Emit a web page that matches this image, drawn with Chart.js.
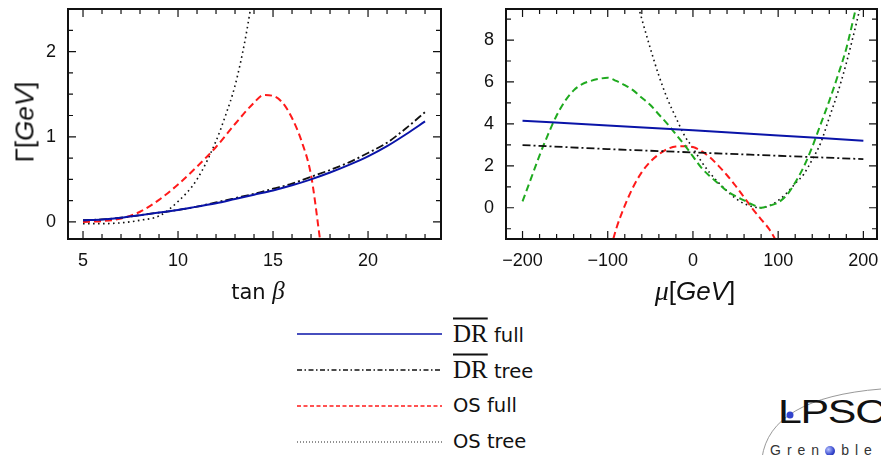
<!DOCTYPE html>
<html>
<head>
<meta charset="utf-8">
<script src="https://cdn.jsdelivr.net/npm/chart.js@4.4.0/dist/chart.umd.min.js"></script>
<style>
  html, body { margin: 0; padding: 0; background: #fff; overflow: hidden; }
  #page { position: relative; width: 881px; height: 455px; overflow: hidden; color: #111; font-family: "Liberation Sans", Arial, sans-serif; }
  .abs { position: absolute; }
  #leftWrap { left: 0; top: 0; width: 450px; height: 310px; }
  #rightWrap { left: 450px; top: 0; width: 431px; height: 310px; }
  .ytitle { left: 25px; top: 122px; font-size: 26px; white-space: nowrap; transform: translate(-50%, -50%) rotate(-90deg); }
  .xtitle { white-space: nowrap; transform: translate(-50%, -50%); }
  .it { font-style: italic; }
  .greek { font-family: "Liberation Serif", serif; font-style: italic; }
  .legrow { left: 453px; white-space: nowrap; font-family: "DejaVu Sans", sans-serif; font-size: 19.5px; transform: translateY(-50%); line-height: 1; }
  .dr { font-family: "Liberation Serif", serif; font-size: 25px; text-decoration: overline; text-decoration-thickness: 2px; }
  #logo { left: 740px; top: 380px; width: 141px; height: 75px; overflow: hidden; }
  .lpsc { position: absolute; left: 38px; top: 15px; font-size: 33px; letter-spacing: -1px; line-height: 1; transform: scaleX(1.3); transform-origin: 0 0; }
  .gren { position: absolute; left: 30px; top: 63px; font-size: 14px; letter-spacing: 6px; line-height: 1; color: #333; }
  .dot { display: inline-block; width: 10px; height: 10px; border-radius: 50%; color: transparent; overflow: hidden; vertical-align: -1px; margin-right: 6px; letter-spacing: 0; background: radial-gradient(circle at 35% 35%, #b8c4ff, #3344cc 60%, #1a2288); }
</style>
</head>
<body>
<div id="page">
  <div id="leftWrap" class="abs"><canvas id="left" width="450" height="310"></canvas></div>
  <div id="rightWrap" class="abs"><canvas id="right" width="431" height="310"></canvas></div>

  <div class="abs ytitle">Γ[<span class="it">GeV</span>]</div>
  <div class="abs xtitle" style="left:258px;top:291px;font-family:'DejaVu Sans',sans-serif;font-size:21px;">tan <span class="greek" style="font-size:25px;">β</span></div>
  <div class="abs xtitle" style="left:695px;top:291px;font-size:26px;"><span class="greek" style="font-size:28px;">μ</span>[<span class="it">GeV</span>]</div>

  <svg class="abs" style="left:297px;top:320px;" width="150" height="130">
    <line x1="0" y1="14" x2="145" y2="14" stroke="#0a14a8" stroke-width="1.6"/>
    <line x1="0" y1="50" x2="145" y2="50" stroke="#111" stroke-width="1.3" stroke-dasharray="5,2.5,1.5,2.5"/>
    <line x1="0" y1="86" x2="145" y2="86" stroke="#ff1a1a" stroke-width="1.6" stroke-dasharray="4,2.5"/>
    <line x1="0" y1="122" x2="145" y2="122" stroke="#222" stroke-width="1" stroke-dasharray="1,2"/>
  </svg>
  <div class="abs legrow" style="top:333px;"><span class="dr">DR</span> full</div>
  <div class="abs legrow" style="top:369px;"><span class="dr">DR</span> tree</div>
  <div class="abs legrow" style="top:406px;">OS full</div>
  <div class="abs legrow" style="top:442px;">OS tree</div>

  <div id="logo" class="abs">
    <svg class="abs" style="left:0;top:0;" width="141" height="75">
      <path d="M 22 78 Q 30 18 141 9" fill="none" stroke="#999" stroke-width="1"/>
      <circle cx="50" cy="35" r="3.5" fill="#3344cc"/>
    </svg>
    <div class="lpsc">LPSC</div>
    <div class="gren">Gren<span class="dot">o</span>ble</div>
  </div>
</div>

<script>
// ---- left panel: width vs tan(beta)
const tanBeta = [5, 6, 7, 8, 9, 10, 11, 12, 13, 14, 15, 16, 17, 18, 19, 20, 21, 22, 23];
const drFullTan = [0.02, 0.03, 0.05, 0.08, 0.11, 0.14, 0.18, 0.22, 0.27, 0.32, 0.37, 0.43, 0.50, 0.58, 0.67, 0.77, 0.89, 1.03, 1.18];
const drTreeTan = [0.02, 0.03, 0.05, 0.08, 0.11, 0.14, 0.18, 0.23, 0.28, 0.33, 0.39, 0.45, 0.53, 0.61, 0.70, 0.81, 0.93, 1.10, 1.29];
const osFullTanX = [5, 6, 7, 8, 9, 10, 11, 12, 13, 14, 14.5, 15, 15.5, 16, 16.5, 17, 17.5];
const osFullTan = [0.0, 0.01, 0.04, 0.12, 0.26, 0.44, 0.65, 0.88, 1.15, 1.40, 1.49, 1.48, 1.40, 1.22, 0.95, 0.55, -0.25];
const osTreeTanX = [5, 6, 7, 8, 9, 10, 11, 12, 12.5, 13, 13.5, 14];
const osTreeTan = [-0.02, -0.02, -0.01, 0.02, 0.07, 0.24, 0.50, 0.95, 1.25, 1.60, 2.10, 2.75];

const tanMajor = [5, 10, 15, 20];
const tanMinor = [6, 7, 8, 9, 11, 12, 13, 14, 16, 17, 18, 19, 21, 22, 23];
const gamLMajor = [0, 1, 2];
const gamLMinor = [0.25, 0.5, 0.75, 1.25, 1.5, 1.75, 2.25];

// ---- right panel: width vs mu
const muLine = [-200, -100, 0, 100, 200];
const drFullMu = [4.15, 3.92, 3.70, 3.45, 3.20];
const drTreeMu = [2.99, 2.80, 2.64, 2.48, 2.32];
const muGreen = [-200, -190, -180, -170, -160, -150, -140, -130, -120, -110, -100, -90, -80, -70, -60, -50, -40, -30, -20, -10, 0, 10, 20, 30, 40, 50, 60, 70, 80, 90, 100, 110, 120, 130, 140, 150, 160, 170, 180, 190, 200];
const greenMu = [0.3, 1.4, 2.5, 3.5, 4.4, 5.1, 5.6, 5.9, 6.05, 6.15, 6.2, 6.05, 5.85, 5.6, 5.25, 4.9, 4.45, 4.0, 3.5, 3.0, 2.45, 1.9, 1.5, 1.15, 0.8, 0.55, 0.35, 0.15, 0.0, 0.1, 0.25, 0.6, 1.2, 1.95, 2.9, 4.0, 5.1, 6.3, 7.6, 9.3, 11.0];
const muOsFull = [-100, -90, -80, -70, -60, -50, -40, -30, -20, -10, 0, 10, 20, 30, 40, 50, 60, 70, 80, 90, 100];
const osFullMu = [-2.5, -1.0, 0.1, 1.0, 1.7, 2.2, 2.55, 2.8, 2.92, 2.93, 2.9, 2.7, 2.4, 2.0, 1.55, 1.05, 0.5, -0.05, -0.55, -1.05, -1.75];
const muOsTree = [-70, -60, -50, -40, -30, -20, -10, 0, 10, 20, 30, 40, 50, 60, 70, 80, 90, 100, 110, 120, 130, 140, 150, 160, 170, 180, 190, 200];
const osTreeMu = [10.5, 9.0, 7.6, 6.3, 5.2, 4.3, 3.45, 2.85, 2.2, 1.65, 1.2, 0.8, 0.45, 0.2, 0.05, 0.0, 0.1, 0.35, 0.7, 1.15, 1.6, 2.3, 3.1, 4.3, 5.5, 6.9, 8.5, 10.2];

const muMajor = [-200, -100, 0, 100, 200];
const muMinor = [-180, -160, -140, -120, -80, -60, -40, -20, 20, 40, 60, 80, 120, 140, 160, 180];
const gamRMajor = [0, 2, 4, 6, 8];
const gamRMinor = [-1, 1, 3, 5, 7, 9];

const BLUE = '#0a14a8', RED = '#ff1a1a', GREEN = '#1faa1f', BLACK = '#111';

function pts(xs, ys) { return xs.map((x, i) => ({ x: x, y: ys[i] })); }
function fmt(v) { return String(v).replace('-', '\u2212'); }

// inward ticks on all four sides plus the frame
const frameTicks = {
  id: 'frameTicks',
  afterDraw(chart, args, o) {
    const { ctx, chartArea: a, scales: { x, y } } = chart;
    ctx.save();
    ctx.strokeStyle = BLACK;
    ctx.lineWidth = 1.2;
    ctx.beginPath();
    const vt = (v, len) => {
      const p = x.getPixelForValue(v);
      ctx.moveTo(p, a.bottom); ctx.lineTo(p, a.bottom - len);
      ctx.moveTo(p, a.top); ctx.lineTo(p, a.top + len);
    };
    const ht = (v, len) => {
      const p = y.getPixelForValue(v);
      ctx.moveTo(a.left, p); ctx.lineTo(a.left + len, p);
      ctx.moveTo(a.right, p); ctx.lineTo(a.right - len, p);
    };
    o.xMajor.forEach(v => vt(v, 8));
    o.xMinor.forEach(v => vt(v, 5));
    o.yMajor.forEach(v => ht(v, 8));
    o.yMinor.forEach(v => ht(v, 5));
    ctx.stroke();
    ctx.lineWidth = 2;
    ctx.strokeRect(a.left, a.top, a.right - a.left, a.bottom - a.top);
    ctx.restore();
  }
};

function lineDs(data, color, dash, width) {
  return {
    data: data, borderColor: color, borderWidth: width, borderDash: dash,
    pointRadius: 0, fill: false, cubicInterpolationMode: 'monotone'
  };
}

function noPad(s) { s.paddingTop = 0; s.paddingBottom = 0; s.paddingLeft = 0; s.paddingRight = 0; }

function makeChart(id, datasets, xr, yr, xMajor, xMinor, yMajor, yMinor, yW, xH, pad) {
  return new Chart(document.getElementById(id), {
    type: 'line',
    data: { datasets: datasets },
    options: {
      responsive: false,
      animation: false,
      layout: { padding: pad },
      plugins: {
        legend: { display: false },
        tooltip: { enabled: false },
        frameTicks: { xMajor: xMajor, xMinor: xMinor, yMajor: yMajor, yMinor: yMinor }
      },
      scales: {
        x: {
          type: 'linear', min: xr[0], max: xr[1],
          grid: { display: false, drawTicks: false }, border: { display: false },
          afterBuildTicks: s => { s.ticks = xMajor.map(v => ({ value: v })); },
          afterFit: s => { s.height = xH; noPad(s); },
          ticks: { color: BLACK, padding: 11, maxRotation: 0, font: { family: 'Liberation Sans', size: 18 }, callback: v => fmt(v) }
        },
        y: {
          type: 'linear', min: yr[0], max: yr[1],
          grid: { display: false, drawTicks: false }, border: { display: false },
          afterBuildTicks: s => { s.ticks = yMajor.map(v => ({ value: v })); },
          afterFit: s => { s.width = yW; noPad(s); },
          ticks: { color: BLACK, padding: 12, font: { family: 'Liberation Sans', size: 18 }, callback: v => fmt(v) }
        }
      }
    },
    plugins: [frameTicks]
  });
}

makeChart('left', [
  lineDs(pts(tanBeta, drFullTan), BLUE, [], 2),
  lineDs(pts(tanBeta, drTreeTan), BLACK, [8, 3, 2, 3], 1.8),
  lineDs(pts(osFullTanX, osFullTan), RED, [7, 4], 2),
  lineDs(pts(osTreeTanX, osTreeTan), BLACK, [1.6, 3.4], 1.6)
], [4.21, 23.84], [-0.2, 2.5], tanMajor, tanMinor, gamLMajor, gamLMinor, 68, 71, { top: 9, right: 9, left: 0, bottom: 0 });

makeChart('right', [
  lineDs(pts(muLine, drFullMu), BLUE, [], 2),
  lineDs(pts(muLine, drTreeMu), BLACK, [8, 3, 2, 3], 1.8),
  lineDs(pts(muGreen, greenMu), GREEN, [7, 4], 2),
  lineDs(pts(muOsFull, osFullMu), RED, [7, 4], 2),
  lineDs(pts(muOsTree, osTreeMu), BLACK, [1.6, 3.4], 1.6)
], [-219.4, 216], [-1.49, 9.48], muMajor, muMinor, gamRMajor, gamRMinor, 56, 71, { top: 9, right: 4, left: 0, bottom: 0 });
</script>
</body>
</html>
